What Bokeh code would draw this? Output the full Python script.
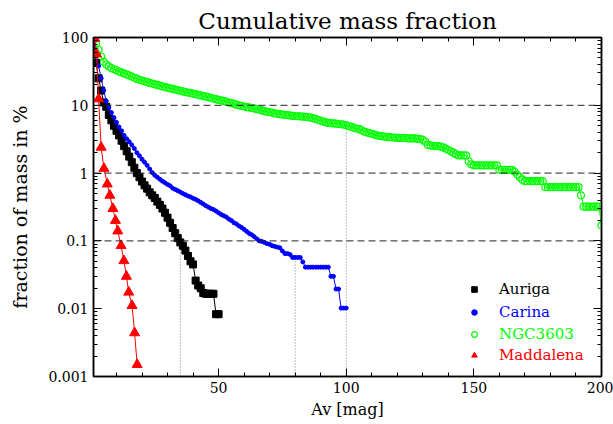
from bokeh.plotting import figure
from bokeh.models import (FixedTicker, LinearAxis, LogAxis, Legend, LegendItem, Span)
from bokeh.embed import file_html
from bokeh.resources import INLINE

# ---------------- data ----------------
auriga_av = list(range(1, 51))
auriga_frac = [100, 42, 25, 16.5, 11, 9.5, 7.2, 6.0, 5.0, 4.2,
               3.6, 3.0, 2.5, 2.1, 1.75, 1.45, 1.2, 1.0, 0.87, 0.75,
               0.66, 0.59, 0.52, 0.47, 0.43, 0.38, 0.34, 0.30, 0.26, 0.22,
               0.185, 0.155, 0.13, 0.11, 0.095, 0.085, 0.072, 0.060, 0.050, 0.045,
               0.026, 0.022, 0.020, 0.017, 0.0166, 0.0166, 0.0166, 0.0166, 0.0083, 0.0083]

carina_av = list(range(1, 101))
carina_frac = [100, 60, 38, 25, 16.6, 11.5, 9.3, 7.8, 6.6, 5.6,
               4.8, 4.2, 3.6, 3.2, 2.9, 2.6, 2.3, 2.0, 1.8, 1.6,
               1.45, 1.3, 1.15, 1.02, 0.93, 0.87, 0.81, 0.76, 0.72, 0.68,
               0.65, 0.60, 0.575, 0.55, 0.525, 0.50, 0.48, 0.46, 0.445, 0.425,
               0.41, 0.39, 0.37, 0.35, 0.33, 0.315, 0.30, 0.29, 0.275, 0.26,
               0.245, 0.235, 0.225, 0.21, 0.20, 0.185, 0.178, 0.166, 0.158, 0.148,
               0.138, 0.129, 0.123, 0.115, 0.107, 0.100, 0.098, 0.095, 0.091, 0.089,
               0.085, 0.083, 0.081, 0.079, 0.071, 0.065, 0.065, 0.063, 0.057, 0.057,
               0.057, 0.057, 0.049, 0.041, 0.041, 0.041, 0.041, 0.041, 0.041, 0.041,
               0.041, 0.041, 0.041, 0.030, 0.030, 0.0195, 0.0195, 0.0102, 0.0102, 0.0102]

ngc3603_av = list(range(1, 201))
ngc3603_frac = [92, 80, 66, 52, 44, 40, 37.5, 35.5, 34, 33,
                31.5, 30.5, 29.5, 28.5, 27.5, 26.5, 25.5, 24.5, 23.8, 23.2,
                22.6, 22.0, 21.4, 20.9, 20.4, 20.0, 19.5, 19.0, 18.6, 18.2,
                17.8, 17.5, 17.1, 16.7, 16.4, 16.0, 15.7, 15.4, 15.2, 14.9,
                14.6, 14.3, 14.0, 13.7, 13.5, 13.2, 12.9, 12.6, 12.3, 12.0,
                11.8, 11.6, 11.3, 11.0, 10.8, 10.5, 10.2, 10.0, 9.8, 9.6,
                9.4, 9.3, 9.1, 9.0, 8.8, 8.6, 8.4, 8.2, 8.0, 7.9,
                7.8, 7.6, 7.5, 7.4, 7.3, 7.2, 7.15, 7.1, 7.0, 6.95,
                6.9, 6.85, 6.8, 6.75, 6.7, 6.6, 6.45, 6.3, 6.1, 5.9,
                5.75, 5.6, 5.5, 5.45, 5.4, 5.35, 5.3, 5.25, 5.2, 5.1,
                4.95, 4.8, 4.65, 4.55, 4.5, 4.3, 4.1, 4.0, 3.9, 3.8,
                3.7, 3.6, 3.55, 3.5, 3.45, 3.4, 3.4, 3.35, 3.35, 3.3,
                3.3, 3.3, 3.3, 3.25, 3.25, 3.25, 3.25, 3.2, 3.2, 3.1,
                2.9, 2.6, 2.55, 2.55, 2.5, 2.5, 2.45, 2.4, 2.3, 2.2,
                2.1, 2.0, 1.9, 1.82, 1.82, 1.82, 1.82, 1.5, 1.35, 1.3,
                1.3, 1.3, 1.3, 1.3, 1.3, 1.3, 1.3, 1.3, 1.3, 1.12,
                1.12, 1.12, 1.12, 1.12, 1.12, 1.05, 0.95, 0.87, 0.8, 0.76,
                0.76, 0.76, 0.76, 0.76, 0.76, 0.76, 0.76, 0.62, 0.62, 0.62,
                0.62, 0.62, 0.62, 0.62, 0.62, 0.62, 0.62, 0.62, 0.62, 0.62,
                0.62, 0.47, 0.32, 0.32, 0.32, 0.32, 0.32, 0.32, 0.32, 0.17]

maddalena_av = [1.5, 2.2, 3.0, 4.0, 5.1, 6.4, 7.4, 8.6, 9.6, 10.5,
                11.8, 12.9, 13.9, 14.8, 16.1, 17.1, 18.1]
maddalena_frac = [97, 57, 12.4, 2.4, 1.17, 0.69, 0.47, 0.30, 0.20, 0.14,
                  0.085, 0.051, 0.030, 0.0175, 0.0111, 0.0044, 0.0015]

cut_av = [35, 80, 100]          # dotted vertical markers
cut_top = [0.085, 0.057, 5.0]   # where they meet the curves
ref_levels = [10, 1, 0.1]       # dashed horizontal reference levels

x_ticks = [50, 100, 150, 200]
x_minor = [10, 20, 30, 40, 60, 70, 80, 90, 110, 120, 130, 140, 160, 170, 180, 190]
y_ticks = [0.001, 0.01, 0.1, 1, 10, 100]
y_tick_labels = ["0.001", "0.01", "0.1", "1", "10", "100"]
y_minor = [k * 10.0 ** e for e in range(-3, 2) for k in range(2, 10)]

names = ["Auriga", "Carina", "NGC3603", "Maddalena"]
colors = ["#000000", "#0000ff", "#00ff00", "#ff0000"]

FONT = "DejaVu Serif"

# ---------------- figure ----------------
p = figure(width=613, height=424, x_range=(1, 200), y_range=(0.001, 100),
           y_axis_type="log", output_backend="svg", toolbar_location=None,
           min_border_left=93, min_border_right=12, min_border_top=37, min_border_bottom=48,
           title="Cumulative mass fraction")
p.title.align = "center"
p.title.text_font = FONT
p.title.text_font_size = "23px"
p.title.text_font_style = "normal"
p.title.text_color = "black"
p.title.standoff = 8
p.xgrid.visible = False
p.ygrid.visible = False
p.outline_line_color = "black"
p.outline_line_width = 1.5
p.background_fill_color = "white"
p.border_fill_color = "white"

xt = FixedTicker(ticks=x_ticks, minor_ticks=x_minor)
yt = FixedTicker(ticks=y_ticks, minor_ticks=y_minor)
overrides = {t: l for t, l in zip(y_ticks, y_tick_labels)}


def style_axis(ax, labels=True):
    ax.axis_line_color = "black"
    ax.axis_line_width = 1.5
    ax.major_tick_in = 8
    ax.major_tick_out = 0
    ax.minor_tick_in = 4
    ax.minor_tick_out = 0
    ax.major_tick_line_width = 1
    ax.minor_tick_line_width = 1
    ax.major_tick_line_color = "black"
    ax.minor_tick_line_color = "black"
    if labels:
        ax.major_label_text_font = FONT
        ax.major_label_text_font_size = "14px"
        ax.major_label_text_color = "black"
        ax.axis_label_text_font = FONT
        ax.axis_label_text_font_size = "16px"
        ax.axis_label_text_font_style = "normal"
        ax.axis_label_text_color = "black"
    else:
        ax.major_label_text_font_size = "0px"
        ax.major_label_text_color = None


xa = p.xaxis[0]
xa.ticker = xt
xa.axis_label = "Av [mag]"
style_axis(xa)
xa.major_label_standoff = 5
xa.axis_label_standoff = 4

ya = p.yaxis[0]
ya.ticker = yt
ya.major_label_overrides = overrides
ya.axis_label = "fraction of mass in %"
style_axis(ya)
ya.axis_label_text_font_size = "19px"
ya.major_label_standoff = 5
ya.axis_label_standoff = 14

top = LinearAxis(ticker=xt)
style_axis(top, labels=False)
p.add_layout(top, "above")
right = LogAxis(ticker=yt)
style_axis(right, labels=False)
p.add_layout(right, "right")

for lv in ref_levels:
    p.add_layout(Span(location=lv, dimension="width", line_color="#222222",
                      line_width=1, line_dash="7 4"))

p.segment(x0=cut_av, y0=[y_ticks[0]] * len(cut_av), x1=cut_av, y1=cut_top,
          line_color="#777777", line_width=1, line_dash="1 2")

# series
p.line(ngc3603_av, ngc3603_frac, line_color=colors[2], line_width=1)
r_ngc = p.scatter(ngc3603_av, ngc3603_frac, marker="circle", size=7,
                  fill_color=None, line_color=colors[2], line_width=1.2)

p.line(auriga_av, auriga_frac, line_color=colors[0], line_width=1)
r_aur = p.scatter(auriga_av, auriga_frac, marker="square", size=7,
                  fill_color=colors[0], line_color=colors[0])

p.line(carina_av, carina_frac, line_color=colors[1], line_width=1)
r_car = p.scatter(carina_av, carina_frac, marker="circle", size=4,
                  fill_color=colors[1], line_color=colors[1])

p.line(maddalena_av, maddalena_frac, line_color=colors[3], line_width=1)
r_mad = p.scatter(maddalena_av, maddalena_frac, marker="triangle", size=10,
                  fill_color=colors[3], line_color=colors[3])

# legends (one per entry so each label gets its own colour)
renderers = [r_aur, r_car, r_ngc, r_mad]
legend_y = [77, 54, 32, 11]
for name, col, rend, ly in zip(names, colors, renderers, legend_y):
    lg = Legend(items=[LegendItem(label=name, renderers=[rend])],
                location=(374, ly), orientation="vertical",
                background_fill_alpha=0, border_line_color=None,
                padding=0, margin=0, spacing=0,
                glyph_width=14, glyph_height=20, label_height=20,
                label_standoff=18,
                label_text_font=FONT, label_text_font_size="15px",
                label_text_color=col)
    p.add_layout(lg, "center")

open("out.html", "w").write(file_html(p, INLINE))
